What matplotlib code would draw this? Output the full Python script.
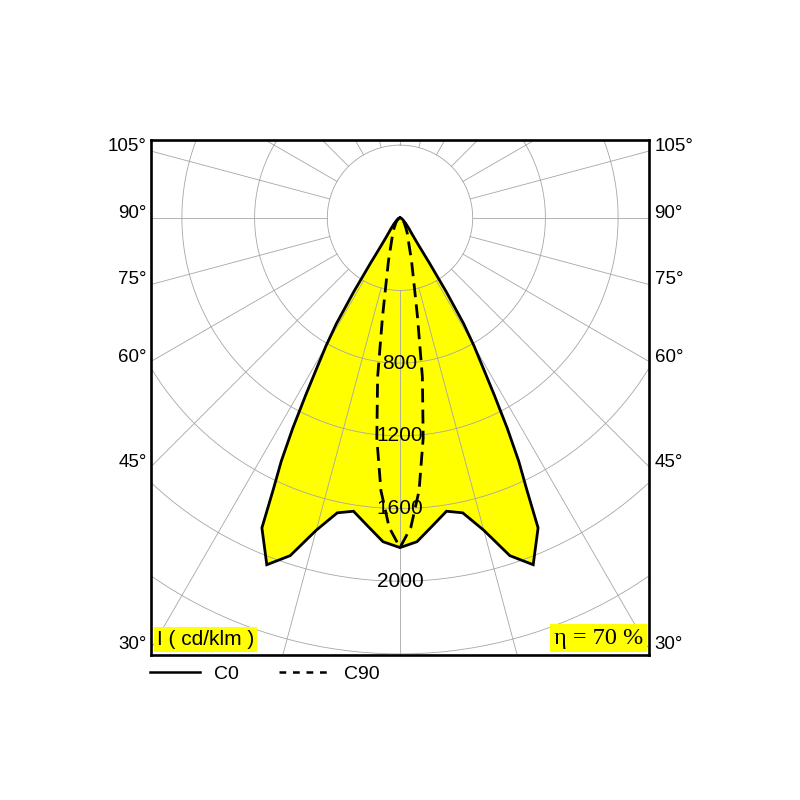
import matplotlib
matplotlib.use('Agg')
import matplotlib.pyplot as plt
import numpy as np
from matplotlib.lines import Line2D

# luminous intensity (cd/klm) vs gamma angle (deg)
c0_gamma = [0, 3, 6, 9, 12, 15, 18, 21, 24, 25, 26, 27, 28, 29, 30, 31, 32, 33, 34, 36, 40, 45, 55, 70, 90]
c0_int = [1815, 1785, 1705, 1635, 1660, 1780, 1955, 2045, 1868, 1650, 1490, 1300, 1105, 940, 815, 680, 480, 300, 190, 120, 75, 45, 20, 8, 0]

c90_gamma = [0, 2, 4, 6, 8, 10, 12, 15, 20, 25, 30, 40, 50, 60, 90]
c90_int = [1815, 1705, 1505, 1220, 885, 555, 370, 245, 135, 95, 65, 35, 18, 8, 0]

ring_values = [400, 800, 1200, 1600, 2000, 2400, 2800]
ring_labels = [800, 1200, 1600, 2000]
angle_labels = [30, 45, 60, 75, 90, 105]
spoke_angles = np.arange(0, 360, 15)

efficiency = 70
unit_text = 'I ( cd/klm )'

XLIM = 1370
YTOP = 428
YBOT = -2406

plt.rcParams['font.family'] = ['Liberation Sans', 'DejaVu Sans']


def to_xy(gamma, inten):
    # mirror the half curve to both sides, gamma 0 pointing down
    g = np.radians(np.concatenate([-np.array(gamma[::-1]), np.array(gamma[1:])]))
    r = np.concatenate([np.array(inten[::-1]), np.array(inten[1:])])
    return r * np.sin(g), -r * np.cos(g)


fig = plt.figure(figsize=(8, 8), dpi=100)
ax = fig.add_axes([151 / 800, (800 - 655) / 800, 498 / 800, 515 / 800])
ax.set_xlim(-XLIM, XLIM)
ax.set_ylim(YBOT, YTOP)
ax.set_xticks([])
ax.set_yticks([])
for s in ax.spines.values():
    s.set_linewidth(1.9)
    s.set_zorder(6)

grid_kw = dict(color='#a6a6a6', lw=0.6, zorder=2)

# rings
t = np.linspace(0, 2 * np.pi, 400)
for rv in ring_values:
    ax.plot(rv * np.sin(t), rv * np.cos(t), **grid_kw)

# spokes, starting at the first ring
for a in spoke_angles:
    ar = np.radians(a)
    ax.plot([400 * np.sin(ar), 4000 * np.sin(ar)],
            [-400 * np.cos(ar), -4000 * np.cos(ar)], **grid_kw)

# curves
x0, y0 = to_xy(c0_gamma, c0_int)
x90, y90 = to_xy(c90_gamma, c90_int)
ax.fill(x0, y0, color='#ffff00', lw=0, zorder=1)
ax.plot(x0, y0, color='black', lw=2.0, zorder=4, solid_joinstyle='miter')
ax.plot(x90, y90, color='black', lw=2.0, zorder=4, linestyle=(0, (5, 2.6)))

# ring labels
for v in ring_labels:
    ax.text(0, -v, str(v), ha='center', va='center', fontsize=15, zorder=3)

# angle labels at the frame edges
for a in angle_labels:
    ar = np.radians(a)
    yy = -XLIM * np.cos(ar) / np.sin(ar)
    ax.annotate(f'{a}°', xy=(-XLIM, yy), xytext=(-3, 0), textcoords='offset points',
                ha='right', va='baseline', fontsize=13.5, annotation_clip=False)
    ax.annotate(f'{a}°', xy=(XLIM, yy), xytext=(4, 0), textcoords='offset points',
                ha='left', va='baseline', fontsize=13.5, annotation_clip=False)

# unit and efficiency boxes
ax.text(0.012, 0.012, unit_text, transform=ax.transAxes, ha='left', va='bottom',
        fontsize=15, zorder=7,
        bbox=dict(boxstyle='square,pad=0.13', fc='#ffff00', ec='none'))
ax.text(0.988, 0.012, f'η = {efficiency} %', transform=ax.transAxes, ha='right', va='bottom',
        fontsize=17.5, family=['Liberation Serif', 'DejaVu Serif'], zorder=7,
        bbox=dict(boxstyle='square,pad=0.15', fc='#ffff00', ec='none'))

# legend below the frame
handles = [Line2D([], [], color='black', lw=1.8),
           Line2D([], [], color='black', lw=1.8, linestyle=(0, (2.7, 2.7)))]
ax.legend(handles, ['C0', 'C90'], loc='upper left', bbox_to_anchor=(-0.003, -0.02),
          ncol=2, frameon=False, fontsize=14, borderaxespad=0, borderpad=0,
          handlelength=2.6, handletextpad=0.7, columnspacing=2.1)

fig.savefig('out.png', dpi=100, facecolor='white')
